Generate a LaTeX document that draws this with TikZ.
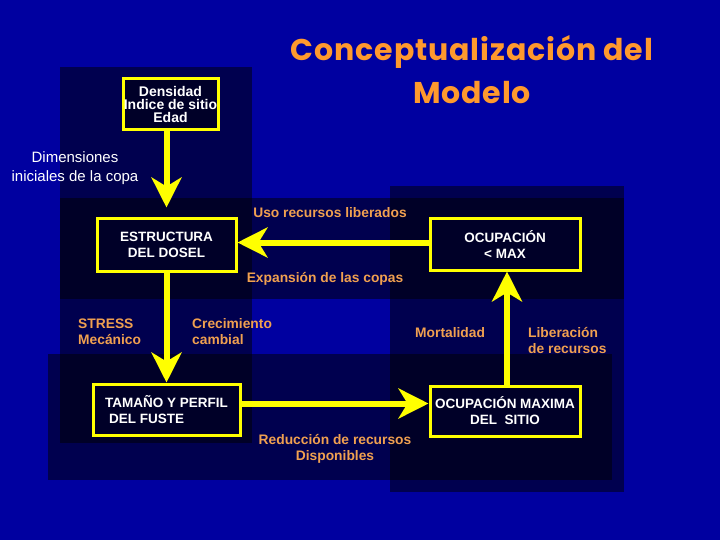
\documentclass[tikz,border=0pt]{standalone}
\usepackage{fontspec}
\setmainfont{Liberation Sans}
\newfontfamily\titlefont[LetterSpace=3]{Poppins}
\usetikzlibrary{arrows.meta}
\definecolor{fondo}{RGB}{0,0,160}
\definecolor{amarillo}{RGB}{255,255,0}
\definecolor{naranja}{RGB}{240,160,80}
\definecolor{naranjatitulo}{RGB}{255,153,45}
\definecolor{relleno}{RGB}{0,0,40}
\tikzset{
  caja/.style={draw=amarillo, line width=3pt, fill=relleno, text=white,
    font=\bfseries\fontsize{13.5}{16}\selectfont, align=center, inner sep=0pt},
  etiqueta/.style={text=naranja, font=\bfseries\fontsize{13.8}{16}\selectfont,
    inner sep=0pt},
  flecha/.style={-{Stealth[length=30pt,width=30pt,inset=9pt]}, draw=amarillo,
    line width=6pt},
  panel/.style={fill=black, fill opacity=0.5}
}
\begin{document}
\begin{tikzpicture}[x=1pt,y=-1pt]
        %fondo
        \fill[fondo] (0,0) rectangle (720,540);
        \useasboundingbox (0,0) rectangle (720,540);
        %paneles
        \fill[panel] (60,67) rectangle (252,443);
        \fill[panel] (60,198) rectangle (624,299);
        \fill[panel] (390,186) rectangle (624,492);
        \fill[panel] (48,354) rectangle (612,480);

        %titulo
        \node (titulo) at (472,70) [text=naranjatitulo, align=center,
          font=\titlefont\bfseries\fontsize{30}{43}\selectfont]
          {Conceptualización del\\Modelo};

        %cajas
        \node (densidad) at (170.5,104.5) [caja, minimum width=95pt, minimum height=51pt,
          font=\bfseries\fontsize{14}{13}\selectfont]{Densidad\\Indice de sitio\\Edad};
        \node (estructura) at (166.5,245) [caja, minimum width=139pt, minimum height=52pt]
          {ESTRUCTURA\\DEL DOSEL};
        \node (ocupacion) at (505,244.5) [caja, minimum width=150pt, minimum height=51pt]
          {OCUPACIÓN\\< MAX};
        \node (tamano) at (166.5,409.5) [caja, minimum width=147pt, minimum height=51pt,
          align=left]{TAMAÑO Y PERFIL\\\hspace*{4pt}DEL FUSTE};
        \node (ocupmax) at (505,411) [caja, minimum width=150pt, minimum height=50pt]
          {OCUPACIÓN MAXIMA\\DEL\ \ SITIO};

        %flechas
        \draw[flecha, shorten >=10pt] (densidad.south -| estructura.north) -- (estructura.north);
        \draw[flecha] ([yshift=2pt]ocupacion.west) -- ([yshift=2pt]ocupacion.west -| estructura.east);
        \draw[flecha] (estructura.south) -- (tamano.north);
        \draw[flecha] ([yshift=6pt]tamano.east) -- ([yshift=6pt]tamano.east -| ocupmax.west);
        \draw[flecha] ([xshift=2pt]ocupmax.north) -- ([xshift=2pt]ocupacion.south);

        %etiquetas
        \node (dimensiones) at (75,168) [text=white, align=center,
          font=\fontsize{15}{19}\selectfont]{Dimensiones\\iniciales de la copa};
        \node (uso) at (330,213) [etiqueta]{Uso recursos liberados};
        \node (expansion) at (325,279) [etiqueta]{Expansión de las copas};
        \node (stress) at (78,332) [etiqueta, anchor=west, align=left]{STRESS\\Mecánico};
        \node (crecimiento) at (192,332) [etiqueta, anchor=west, align=left]{Crecimiento\\cambial};
        \node (mortalidad) at (415,333) [etiqueta, anchor=west]{Mortalidad};
        \node (liberacion) at (528,341) [etiqueta, anchor=west, align=left]{Liberación\\de recursos};
        \node (reduccion) at (335,449) [etiqueta, align=center]{Reducción de recursos\\Disponibles};
\end{tikzpicture}
\end{document}
